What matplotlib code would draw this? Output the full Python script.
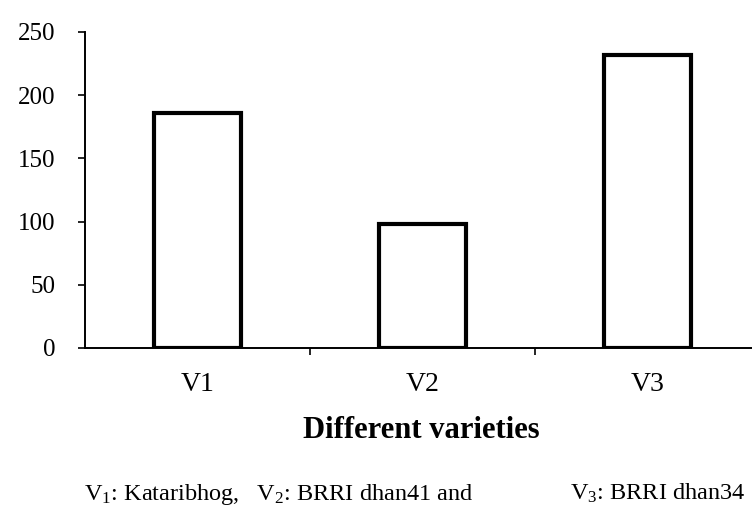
import matplotlib
matplotlib.use("Agg")
import matplotlib.pyplot as plt
from matplotlib.ticker import FixedLocator, NullFormatter

categories = ["V1", "V2", "V3"]
values = [186, 98, 232]
yticks = [0, 50, 100, 150, 200, 250]
xlabel = "Different varieties"
note_left = r"V$_1$: Kataribhog,   V$_2$: BRRI dhan41 and"
note_right = r"V$_3$: BRRI dhan34"

plt.rcParams["font.family"] = ["Liberation Serif", "DejaVu Serif"]
plt.rcParams["mathtext.fontset"] = "custom"
plt.rcParams["mathtext.rm"] = "Liberation Serif"
plt.rcParams["mathtext.it"] = "Liberation Serif:italic"
plt.rcParams["mathtext.bf"] = "Liberation Serif:bold"
plt.rcParams["mathtext.default"] = "rm"

fig = plt.figure(figsize=(7.52, 5.07), dpi=100)
ax = fig.add_axes([85 / 752, 1 - 348 / 507, (760 - 85) / 752, (348 - 32) / 507])

x = list(range(len(categories)))
ax.bar(x, values, width=0.39, facecolor="white", edgecolor="black", linewidth=3.0, zorder=2)

ax.set_xlim(-0.5, 2.5)
ax.set_ylim(0, 250)
ax.set_yticks(yticks)
ax.set_yticklabels([str(v) for v in yticks], fontsize=18)
ax.set_xticks(x)
ax.set_xticklabels(categories, fontsize=20)
ax.tick_params(axis="x", which="major", length=0, pad=17)
ax.xaxis.set_minor_locator(FixedLocator([0.5, 1.5]))
ax.xaxis.set_minor_formatter(NullFormatter())
ax.tick_params(axis="x", which="minor", length=5, width=1.2, direction="out")
ax.tick_params(axis="y", length=5, width=1.2, direction="out", pad=16)

for s in ["top", "right"]:
    ax.spines[s].set_visible(False)
for s in ["left", "bottom"]:
    ax.spines[s].set_linewidth(1.4)

fig.text(421 / 752, 1 - 438 / 507, xlabel, ha="center", va="baseline",
         fontsize=22, fontweight="bold")
fig.text(473 / 752, 1 - 500 / 507, note_left, ha="right", va="baseline", fontsize=17.5)
fig.text(570 / 752, 1 - 500 / 507, note_right, ha="left", va="baseline", fontsize=17.5)

fig.savefig("out.png", dpi=100)
